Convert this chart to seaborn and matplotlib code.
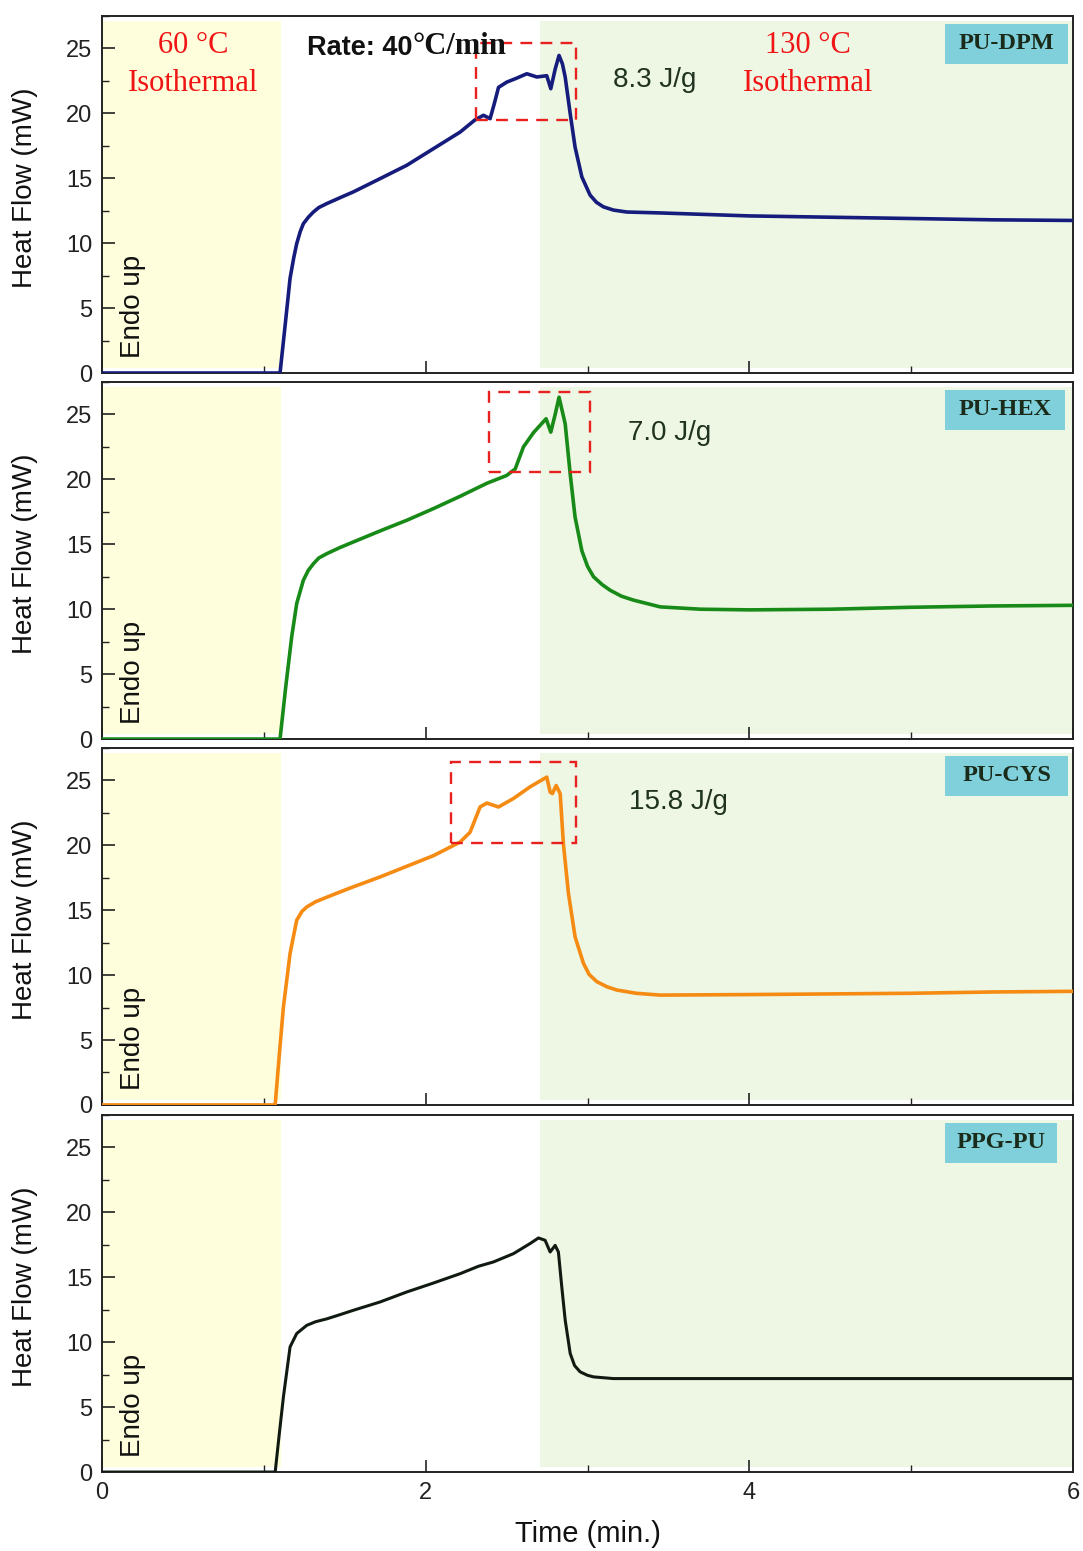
import matplotlib
matplotlib.use("Agg")
import matplotlib.pyplot as plt
import seaborn as sns
import pandas as pd
from matplotlib.patches import Rectangle
from matplotlib.ticker import MultipleLocator

# ---------------- data ----------------
samples = ["PU-DPM", "PU-HEX", "PU-CYS", "PPG-PU"]
enthalpy_labels = ["8.3 J/g", "7.0 J/g", "15.8 J/g", None]

time_dpm = [0, 1.10, 1.13, 1.162, 1.185, 1.203, 1.225, 1.244, 1.275, 1.306, 1.34, 1.389, 1.47,
            1.553, 1.718, 1.883, 2.048, 2.213, 2.305, 2.357, 2.398, 2.425, 2.45, 2.50, 2.56,
            2.625, 2.687, 2.748, 2.773, 2.80, 2.824, 2.845, 2.862, 2.893, 2.923, 2.965, 3.016,
            3.055, 3.098, 3.16, 3.243, 3.449, 4.0, 4.5, 5.0, 5.5, 6.0]
flow_dpm = [0, 0, 3.5, 7.3, 8.9, 9.97, 10.9, 11.5, 12.0, 12.4, 12.75, 13.05, 13.5,
            13.95, 14.97, 16.0, 17.28, 18.56, 19.5, 19.85, 19.59, 20.8, 22.0, 22.4, 22.7,
            23.05, 22.8, 22.9, 21.9, 23.4, 24.46, 23.8, 22.8, 19.97, 17.4, 15.1, 13.7,
            13.15, 12.8, 12.55, 12.4, 12.33, 12.1, 12.0, 11.9, 11.8, 11.75]

time_hex = [0, 1.10, 1.135, 1.172, 1.203, 1.244, 1.275, 1.306, 1.34, 1.389, 1.47, 1.553, 1.718,
            1.883, 2.048, 2.213, 2.378, 2.50, 2.553, 2.604, 2.666, 2.744, 2.773, 2.80, 2.824,
            2.862, 2.893, 2.923, 2.965, 3.0, 3.037, 3.09, 3.14, 3.21, 3.284, 3.449, 3.7, 4.0,
            4.5, 5.0, 5.5, 6.0]
flow_hex = [0, 0, 4.0, 7.87, 10.44, 12.23, 13.0, 13.5, 13.95, 14.28, 14.75, 15.18, 16.03,
            16.85, 17.75, 18.7, 19.7, 20.3, 20.8, 22.5, 23.6, 24.67, 23.64, 25.0, 26.33,
            24.28, 20.4, 17.1, 14.5, 13.3, 12.5, 11.9, 11.46, 11.0, 10.7, 10.18, 10.0, 9.95,
            10.0, 10.15, 10.25, 10.3]

time_cys = [0, 1.07, 1.095, 1.121, 1.162, 1.203, 1.235, 1.265, 1.32, 1.389, 1.47, 1.553, 1.718,
            1.883, 2.048, 2.213, 2.274, 2.336, 2.378, 2.45, 2.542, 2.645, 2.748, 2.769, 2.783,
            2.806, 2.831, 2.851, 2.882, 2.923, 2.975, 3.01, 3.057, 3.12, 3.181, 3.3, 3.449,
            4.0, 4.5, 5.0, 5.5, 6.0]
flow_cys = [0, 0, 3.8, 7.56, 11.67, 14.23, 14.9, 15.25, 15.65, 16.0, 16.4, 16.8, 17.56,
            18.38, 19.2, 20.25, 21.0, 22.95, 23.25, 22.95, 23.6, 24.5, 25.25, 24.1, 23.98,
            24.6, 23.98, 20.1, 16.3, 12.95, 10.9, 10.05, 9.5, 9.1, 8.85, 8.6, 8.46,
            8.5, 8.55, 8.6, 8.7, 8.75]

time_ppg = [0, 1.07, 1.095, 1.121, 1.162, 1.203, 1.265, 1.32, 1.389, 1.47, 1.553, 1.718, 1.883,
            2.048, 2.213, 2.326, 2.418, 2.542, 2.645, 2.697, 2.738, 2.769, 2.80, 2.82, 2.841,
            2.862, 2.893, 2.92, 2.954, 3.0, 3.037, 3.16, 3.449, 4.0, 5.0, 6.0]
flow_ppg = [0, 0, 2.9, 5.8, 9.64, 10.67, 11.3, 11.58, 11.8, 12.12, 12.46, 13.1, 13.87,
            14.56, 15.28, 15.85, 16.18, 16.82, 17.6, 18.03, 17.85, 16.95, 17.46, 16.95, 14.25,
            11.7, 9.13, 8.2, 7.72, 7.45, 7.33, 7.2, 7.2, 7.2, 7.2, 7.2]

# highlighted regions (time range, heat-flow range) per sample
box_time = [(2.31, 2.93), (2.394, 3.016), (2.157, 2.93), None]
box_flow = [(19.5, 25.4), (20.56, 26.7), (20.2, 26.4), None]

iso_low_end = 1.105      # end of 60 °C isothermal
iso_high_start = 2.707   # start of 130 °C isothermal

x_ticks = [0, 2, 4, 6]
y_ticks = [0, 5, 10, 15, 20, 25]

# ---------------- style ----------------
sns.set_style("ticks")
plt.rcParams['font.family'] = ['Liberation Sans', 'DejaVu Sans']

colors = ["#161c7c", "#178a17", "#f58b12", "#111a11"]
widths = [2.6, 2.6, 2.6, 2.2]
tag_text_color = "#1a2b1a"
tag_box_color = "#80d0dc"
red = "#f01414"

fig = plt.figure(figsize=(10.83, 15.51), dpi=100)
left, width = 0.0942, 0.8966
bottoms = [0.7595, 0.5235, 0.2876, 0.0509]
height = 0.2302

times = [time_dpm, time_hex, time_cys, time_ppg]
flows = [flow_dpm, flow_hex, flow_cys, flow_ppg]
ej_pos = [(3.418, 22.54), (3.51, 23.54), (3.56, 23.3)]
tag_right = [0.995, 0.992, 0.995, 0.983]

for i in range(4):
    ax = fig.add_axes([left, bottoms[i], width, height])
    ax.axvspan(0, iso_low_end, ymin=0.013, ymax=0.985, color="#fefedc", lw=0, zorder=0)
    ax.axvspan(iso_high_start, 6, ymin=0.013, ymax=0.985, color="#eef6e4", lw=0, zorder=0)

    df = pd.DataFrame({"Time": times[i], "Heat Flow": flows[i]})
    sns.lineplot(data=df, x="Time", y="Heat Flow", ax=ax, color=colors[i],
                 lw=widths[i], estimator=None, sort=False, zorder=3)

    ax.set_xlim(0, 6)
    ax.set_ylim(0, 27.5)
    ax.set_xticks(x_ticks)
    ax.set_yticks(y_ticks)
    ax.xaxis.set_minor_locator(MultipleLocator(1))
    ax.yaxis.set_minor_locator(MultipleLocator(2.5))
    ax.tick_params(which="major", direction="in", length=9, width=1.2, labelsize=17,
                   pad=7, color="#222222", labelcolor="#222222")
    ax.tick_params(which="minor", direction="in", length=5, width=1.0, color="#222222")
    for sp in ax.spines.values():
        sp.set_linewidth(1.4)
        sp.set_color("#222222")
        sp.set_visible(True)
    ax.set_ylabel("Heat Flow (mW)", fontsize=20, color="#111111")
    ax.yaxis.set_label_coords(-0.066, 0.52)
    if i < 3:
        ax.set_xlabel("")
        ax.tick_params(axis="x", labelbottom=False)
    else:
        ax.set_xlabel("Time (min.)", fontsize=21, color="#111111")
        ax.xaxis.set_label_coords(0.5, -0.135)

    # dashed box
    if box_time[i] is not None:
        x0, x1 = box_time[i]
        y0, y1 = box_flow[i]
        ax.add_patch(Rectangle((x0, y0), x1 - x0, y1 - y0, fill=False,
                               edgecolor="#e8201e", lw=1.7, ls=(0, (5, 3.5)), zorder=4))
    # enthalpy label
    if enthalpy_labels[i] is not None:
        ax.text(ej_pos[i][0], ej_pos[i][1], enthalpy_labels[i], fontsize=20,
                color="#1f331f", ha="center", va="center", zorder=5)

    # tag box
    r = tag_right[i]
    ax.add_patch(Rectangle((0.868, 0.866), r - 0.868, 0.112, transform=ax.transAxes,
                           facecolor=tag_box_color, edgecolor="none", zorder=5))
    ax.text((0.868 + r) / 2, 0.922, samples[i], transform=ax.transAxes,
            fontsize=17.5, fontweight="bold", family="Liberation Serif",
            color=tag_text_color, ha="center", va="center", zorder=6)

    # Endo up
    ax.text(0.19, 5.1, "Endo up", rotation=90, fontsize=20, color="#111111",
            ha="center", va="center", zorder=5)

    if i == 0:
        for xc, top in [(0.562, "60 °C"), (4.363, "130 °C")]:
            ax.text(xc, 25.2, top, fontsize=22, family="Liberation Serif",
                    color=red, ha="center", va="center", zorder=5)
            ax.text(xc, 22.3, "Isothermal", fontsize=22, family="Liberation Serif",
                    color=red, ha="center", va="center", zorder=5)
        t1 = ax.text(1.267, 24.46, "Rate: 40", fontsize=19.5, fontweight="bold",
                     color="#111111", ha="left", va="baseline", zorder=6)
        ax.annotate("°C/min", xy=(1, 0), xycoords=t1, xytext=(0, 0),
                    textcoords="offset points", fontsize=22, fontweight="bold",
                    family="Liberation Serif", color="#111111", ha="left",
                    va="bottom", zorder=6)

fig.savefig("out.png", dpi=100)
